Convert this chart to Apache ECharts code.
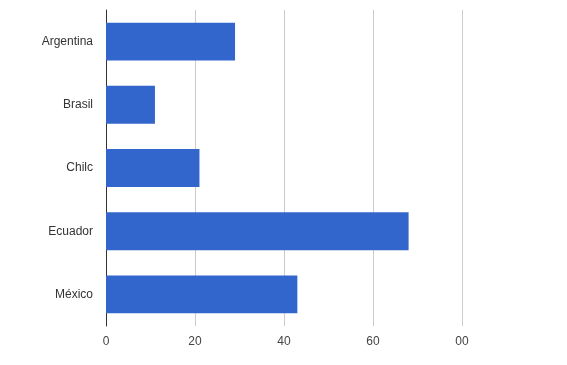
<!DOCTYPE html>
<html>
<head>
<meta charset="utf-8">
<script src="https://cdn.jsdelivr.net/npm/echarts@6/dist/echarts.min.js"></script>
<style>html,body{margin:0;padding:0;background:#fff;}#c{width:567px;height:365px;}</style>
</head>
<body>
<div id="c"></div>
<script>
const categories = ['Argentina', 'Brasil', 'Chilc', 'Ecuador', 'México'];
const values = [29, 11, 21, 68, 43];
const tickLabels = ['0', '20', '40', '60', '00'];

const chart = echarts.init(document.getElementById('c'), null, {renderer: 'canvas'});
chart.setOption({
  animation: false,
  backgroundColor: '#ffffff',
  grid: {left: 106, right: 105, top: 10, bottom: 39, containLabel: false},
  xAxis: {
    type: 'value', min: 0, max: 80, interval: 20,
    axisLine: {show: false}, axisTick: {show: false},
    splitLine: {show: true, lineStyle: {color: '#cccccc', width: 1}},
    axisLabel: {
      color: '#444444', fontFamily: 'Arial, "Liberation Sans", sans-serif', fontSize: 12, margin: 10,
      formatter: function (v) { return tickLabels[Math.round(v / 20)]; }
    }
  },
  yAxis: {
    type: 'category', data: categories, inverse: true,
    axisLine: {show: true, lineStyle: {color: '#333333', width: 1}},
    axisTick: {show: false},
    axisLabel: {color: '#333333', fontFamily: 'Arial, "Liberation Sans", sans-serif', fontSize: 12, margin: 13, padding: [6, 0, 0, 0]}
  },
  series: [{
    type: 'bar', data: values, barWidth: '60%',
    itemStyle: {color: '#3366cc'}
  }]
});
</script>
</body>
</html>
